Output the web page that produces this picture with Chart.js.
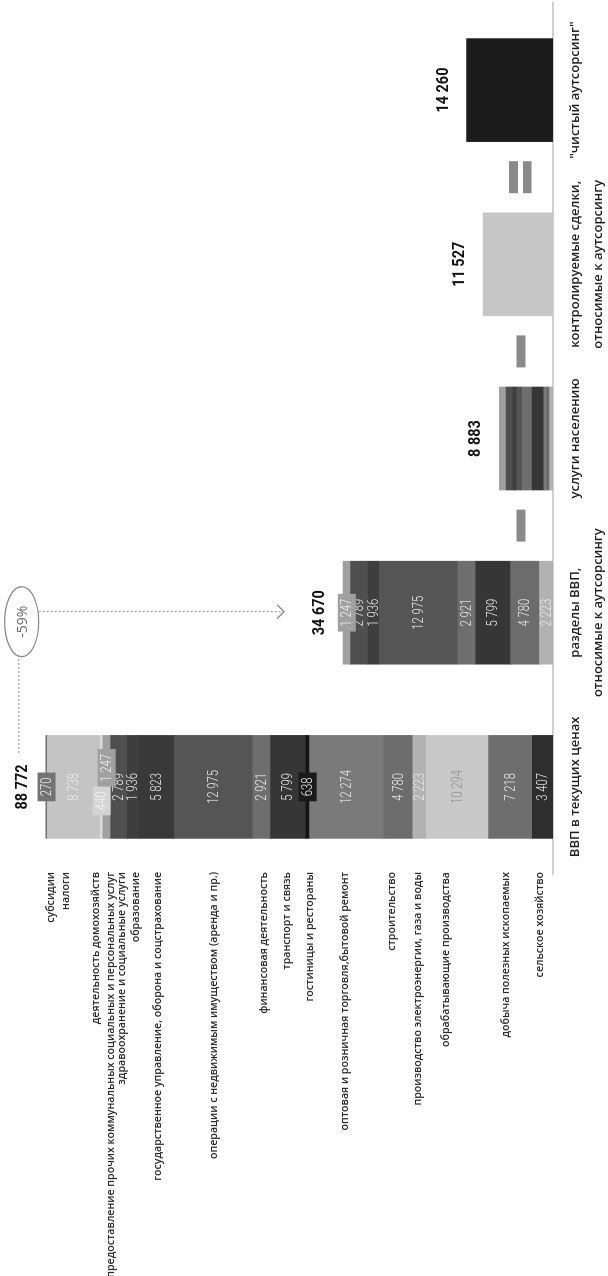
<!DOCTYPE html>
<html lang="ru">
<head>
<meta charset="utf-8">
<script src="https://cdn.jsdelivr.net/npm/chart.js@4.4.1/dist/chart.umd.min.js"></script>
<style>
  html, body { margin: 0; padding: 0; background: #fff; overflow: hidden; }
  /* the chart is laid out landscape and turned a quarter turn to stand upright */
  #wrap {
    position: absolute; left: 0; top: 0;
    width: 1276px; height: 608px;
    transform-origin: 0 0;
    transform: translateY(1276px) rotate(-90deg);
  }
</style>
</head>
<body>
<div id="wrap"><canvas id="chart" width="1276" height="608"></canvas></div>
<script>
// =======================
// Data
// =======================

const bars = [
  "ВВП в текущих ценах",
  ["разделы ВВП,", "относимые к аутсорсингу"],
  "услуги населению",
  ["контролируемые сделки,", "относимые к аутсорсингу"],
  "\"чистый аутсорсинг\""
];

// bar totals as printed above each column
const totals = [88772, 34670, 8883, 11527, 14260];

// sectors, from the bottom of the stack to the top
const sectors = [
  "сельское хозяйство",
  "добыча полезных ископаемых",
  "обрабатывающие производства",
  "производство электроэнергии, газа и воды",
  "строительство",
  "оптовая и розничная торговля,бытовой ремонт",
  "гостиницы и рестораны",
  "транспорт и связь",
  "финансовая деятельность",
  "операции с недвижимым имуществом (аренда и пр.)",
  "государственное управление, оборона и соцстрахование",
  "образование",
  "здравоохранение и социальные услуги",
  "предоставление прочих коммунальных социальных и персональных услуг",
  "деятельность домохозяйств",
  "налоги",
  "субсидии"
];

const gdp         = [3407, 7218, 10294, 2223, 4780, 12274, 638, 5799, 2921, 12975, 5823, 1936, 2789, 1247, 440, 8738, 270];
const outsourcing = [null, null, null, 2223, 4780, null, null, 5799, 2921, 12975, null, 1936, 2789, 1247, null, null, null];
const household   = [null, null, null, 563, 470, 480, null, 1930, 1600, 950, null, 650, 1090, 1150, null, null, null];
const controlled  = [11527];
const netOutsourcing = [14260];

// =======================
// Styles
// =======================

const sectorColors = [
  "#2e2e2e", "#6e6e6e", "#c8c8c8", "#b2b2b2", "#6c6c6c", "#7a7a7a", "#141414", "#363636",
  "#6e6e6e", "#555555", "#393939", "#3e3e3e", "#4f4f4f", "#a0a0a0", "#dcdcdc", "#c4c4c4", "#707070"
];
// value text colour inside the bars
const valueColors = sectorColors.map(c => (c === "#c8c8c8" ? "#8f8f8f" : "#ececec"));
// small segments get a tag box instead of plain text: [fill, shift across the bar]
const tagBoxes = {
  6: ["#1a1a1a", 0],
  13: ["#a0a0a0", 19],
  14: ["#d4d4d4", -14],
  16: ["#737373", 0]
};
// nudges for the sector names so that the thin ones do not collide
const nameShift = [-3, -5, -12, -2, -6, -2, 2, -1, 2, 0, 1, 3, 3, 4, -6, -8, 4];

const SANS = "'Open Sans', 'Noto Sans', sans-serif";

const fmt = v => String(v).replace(/\B(?=(\d{3})+(?!\d))/g, " ");
const sum = arr => arr.reduce((a, b) => a + (b || 0), 0);

// figures are set in a condensed face: squeeze Roboto along the text line
function narrowText(ctx, txt, x, y, sx) {
  ctx.save();
  ctx.translate(x, y);
  ctx.scale(sx, 1);
  ctx.fillText(txt, 0, 0);
  ctx.restore();
}

// =======================
// Datasets
// =======================

const datasets = sectors.map((name, i) => ({
  label: name,
  data: [gdp[i], outsourcing[i], household[i], null, null],
  backgroundColor: sectorColors[i]
}));
datasets.push({
  label: "контролируемые сделки",
  data: [null, null, null, controlled[0], null],
  backgroundColor: "#c6c6c6"
});
datasets.push({
  label: "чистый аутсорсинг",
  data: [null, null, null, null, netOutsourcing[0]],
  backgroundColor: "#1c1c1c"
});

// =======================
// Labels, tags and the -59% note
// =======================

const overlay = {
  id: "overlay",
  afterDatasetsDraw(chart) {
    const { ctx, chartArea, scales: { x, y } } = chart;
    ctx.save();
    ctx.textBaseline = "middle";

    // sector names to the left of the first column
    ctx.font = "600 10.6px " + SANS;
    ctx.fillStyle = "#2b2b2b";
    ctx.textAlign = "right";
    sectors.forEach((name, i) => {
      const el = chart.getDatasetMeta(i).data[0];
      ctx.fillText(name, chartArea.left + 2, (el.y + el.base) / 2 + nameShift[i]);
    });

    // values inside the first two columns
    const vsx = 0.75;
    ctx.font = "300 15px Roboto";
    ctx.textAlign = "center";
    [0, 1].forEach(col => {
      sectors.forEach((name, i) => {
        const v = chart.data.datasets[i].data[col];
        if (v == null) return;
        const el = chart.getDatasetMeta(i).data[col];
        const cy = (el.y + el.base) / 2;
        const txt = fmt(v);
        const box = tagBoxes[i];
        let cx = el.x;
        if (box) {
          if (col === 0) cx += box[1];
          const w = ctx.measureText(txt).width * vsx + 10;
          ctx.fillStyle = box[0];
          ctx.fillRect(cx - w / 2, cy - 9, w, 18);
          ctx.fillStyle = "#f4f4f4";
        } else {
          ctx.fillStyle = valueColors[i];
        }
        narrowText(ctx, txt, cx, cy + 0.5, vsx);
      });
    });

    // totals above each column
    const stackTops = [sum(gdp), sum(outsourcing), sum(household), controlled[0], netOutsourcing[0]];
    const labelY = stackTops.map(v => y.getPixelForValue(v) - 23);
    ctx.font = "bold 17px Roboto";
    ctx.fillStyle = "#111";
    totals.forEach((t, j) => narrowText(ctx, fmt(t), x.getPixelForValue(j), labelY[j], 0.85));

    // minus and equals signs between the columns
    const base = chartArea.bottom;
    ctx.fillStyle = "#8a8a8a";
    [1, 2].forEach(j => {
      const mx = (x.getPixelForValue(j) + x.getPixelForValue(j + 1)) / 2;
      ctx.fillRect(mx - 16, base - 36.5, 32, 9);
    });
    const ex = (x.getPixelForValue(3) + x.getPixelForValue(4)) / 2;
    ctx.fillRect(ex - 16, base - 44, 32, 9);
    ctx.fillRect(ex - 16, base - 30, 32, 8.5);

    // drop from the GDP total to the outsourcing total
    const x1 = x.getPixelForValue(0), x2 = x.getPixelForValue(1);
    const share = Math.round((totals[1] / sum(gdp) - 1) * 100);
    const cx = x2 - 9, cy = labelY[0] - 1;
    const tip = labelY[1] - 36;
    ctx.strokeStyle = "#8a8a8a";
    ctx.lineWidth = 1;
    ctx.setLineDash([2, 2]);
    ctx.beginPath();
    ctx.moveTo(x1 + 34, cy - 3);
    ctx.lineTo(cx - 35, cy - 3);
    ctx.moveTo(x2 + 1, cy + 17);
    ctx.lineTo(x2 + 1, tip);
    ctx.stroke();
    ctx.setLineDash([]);
    ctx.lineWidth = 1.3;
    ctx.beginPath();
    ctx.moveTo(x2 - 6, tip - 7);
    ctx.lineTo(x2 + 1, tip);
    ctx.lineTo(x2 + 8, tip - 7);
    ctx.stroke();
    ctx.beginPath();
    ctx.ellipse(cx, cy, 35, 17, 0, 0, Math.PI * 2);
    ctx.stroke();
    ctx.font = "14px " + SANS;
    ctx.fillStyle = "#6a6a6a";
    ctx.fillText(share + "%", cx, cy + 1);

    ctx.restore();
  }
};

// =======================
// Chart
// =======================

new Chart(document.getElementById("chart"), {
  type: "bar",
  data: { labels: bars, datasets: datasets },
  options: {
    responsive: false,
    animation: false,
    layout: { padding: { left: 402, right: 3, top: 8, bottom: 0 } },
    datasets: { bar: { barThickness: 103 } },
    plugins: {
      legend: { display: false },
      tooltip: { enabled: false }
    },
    scales: {
      x: {
        stacked: true,
        grid: { display: false, drawTicks: false },
        border: { display: true, color: "#d0d0d0", width: 2 },
        ticks: {
          padding: 11,
          autoSkip: false,
          maxRotation: 0,
          color: "#1e1e1e",
          font: { family: SANS, size: 13, weight: "600", lineHeight: 1.77 }
        },
        afterFit: scale => { scale.height = 55; }
      },
      y: { stacked: true, display: false, min: 0, max: 90000 }
    }
  },
  plugins: [overlay]
});
</script>
</body>
</html>
